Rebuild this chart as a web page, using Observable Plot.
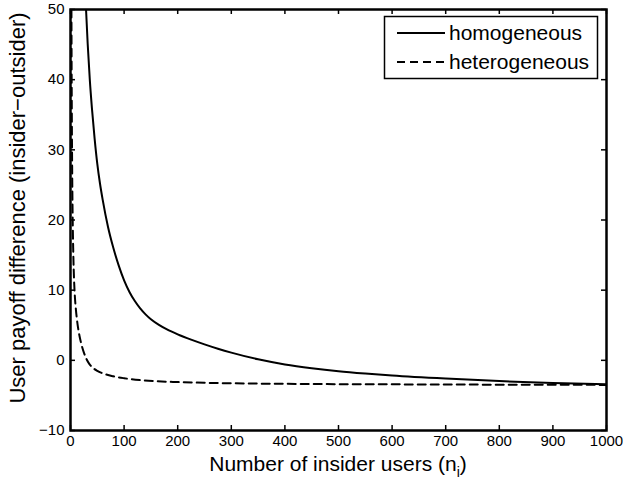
<!DOCTYPE html>
<html>
<head>
<meta charset="utf-8">
<script src="https://cdn.jsdelivr.net/npm/d3@7"></script>
<script src="https://cdn.jsdelivr.net/npm/@observablehq/plot@0.6"></script>
<style>
  html, body { margin: 0; padding: 0; background: #fff; }
  #chart svg { display: block; }
</style>
</head>
<body>
<div id="chart"></div>
<script>
// Insider-count axis and tick values
const xTicks = [0, 100, 200, 300, 400, 500, 600, 700, 800, 900, 1000];
const yTicks = [-10, 0, 10, 20, 30, 40, 50];

// Homogeneous users: payoff difference vs number of insiders
const homN = [29, 32, 36, 40, 45, 50, 55, 60, 70, 80, 90, 100, 110, 120, 130, 140, 150, 165, 180, 200, 225, 250, 275, 300, 350, 400, 450, 500, 550, 600, 700, 800, 900, 1000];
const homY = [50, 45.2, 40, 35.9, 31.6, 28.0, 25.2, 22.9, 19.0, 16.0, 13.5, 11.4, 9.75, 8.45, 7.4, 6.55, 5.85, 5.05, 4.4, 3.7, 2.95, 2.28, 1.66, 1.1, 0.15, -0.58, -1.12, -1.55, -1.88, -2.16, -2.6, -2.96, -3.22, -3.4];

// Heterogeneous users
const hetN = [1.75, 2, 2.5, 3, 3.5, 4, 5, 6, 7, 8, 10, 12, 14, 17, 20, 25, 30, 35, 40, 50, 60, 80, 100, 130, 160, 200, 250, 300, 400, 600, 800, 1000];
const hetY = [50, 43.5, 34.5, 28.2, 23.8, 20.5, 16, 12.9, 10.8, 9.3, 7.3, 5.85, 4.7, 3.4, 2.4, 1.1, 0.15, -0.5, -0.95, -1.5, -1.85, -2.28, -2.55, -2.82, -2.98, -3.1, -3.2, -3.27, -3.35, -3.42, -3.47, -3.5];

const seriesNames = ["homogeneous", "heterogeneous"];

const hom = homN.map((n, i) => ({n, v: homY[i]}));
const het = hetN.map((n, i) => ({n, v: hetY[i]}));

const W = 623, H = 480;
const mL = 70, mR = 17, mT = 9, mB = 50;
const plotW = W - mL - mR, plotH = H - mT - mB;
const tick = 5;
const font = "'Liberation Sans', Arial, Helvetica, sans-serif";

const chart = Plot.plot({
  width: W,
  height: H,
  marginLeft: mL,
  marginRight: mR,
  marginTop: mT,
  marginBottom: mB,
  style: {fontFamily: font, background: "#fff", color: "#000"},
  x: {domain: [0, 1000]},
  y: {domain: [-10, 50]},
  marks: [
    // inward tick marks on all four sides
    Plot.ruleX(xTicks, {x: d => d, insetTop: plotH - tick, stroke: "#000", strokeWidth: 1.5}),
    Plot.ruleX(xTicks, {x: d => d, insetBottom: plotH - tick, stroke: "#000", strokeWidth: 1.5}),
    Plot.ruleY(yTicks, {y: d => d, insetRight: plotW - tick, stroke: "#000", strokeWidth: 1.5}),
    Plot.ruleY(yTicks, {y: d => d, insetLeft: plotW - tick, stroke: "#000", strokeWidth: 1.5}),
    Plot.axisX(xTicks, {tickSize: 0, tickPadding: 5, fontSize: 15, label: null, fill: "#000", tickFormat: d => String(d)}),
    Plot.axisY(yTicks, {tickSize: 0, tickPadding: 6, fontSize: 15, label: null, fill: "#000"}),
    Plot.line(hom, {x: "n", y: "v", stroke: "#000", strokeWidth: 2, curve: "monotone-x", clip: true}),
    Plot.line(het, {x: "n", y: "v", stroke: "#000", strokeWidth: 2, strokeDasharray: "8,5", curve: "monotone-x", clip: true}),
    Plot.frame({stroke: "#000", strokeWidth: 2.5})
  ]
});

const svg = d3.select(chart);

// axis titles
const xt = svg.append("text")
  .attr("x", mL + plotW / 2)
  .attr("y", 471)
  .attr("text-anchor", "middle")
  .attr("font-family", font)
  .attr("font-size", 21)
  .attr("fill", "#000");
xt.append("tspan").text("Number of insider users (n");
xt.append("tspan").attr("font-size", 14).attr("dy", 6).text("i");
xt.append("tspan").attr("dy", -6).text(")");

svg.append("text")
  .attr("transform", "translate(25,208) rotate(-90)")
  .attr("text-anchor", "middle")
  .attr("font-family", font)
  .attr("font-size", 22)
  .attr("fill", "#000")
  .text("User payoff difference (insider\u2212outsider)");

// legend box
const lg = svg.append("g");
lg.append("rect")
  .attr("x", 384.5).attr("y", 16.5)
  .attr("width", 213).attr("height", 62)
  .attr("fill", "#fff").attr("stroke", "#000").attr("stroke-width", 1.5);
const rows = [{y: 33, dash: null}, {y: 62, dash: "8,5"}];
rows.forEach((r, i) => {
  lg.append("line")
    .attr("x1", 397).attr("x2", 445)
    .attr("y1", r.y).attr("y2", r.y)
    .attr("stroke", "#000").attr("stroke-width", 2)
    .attr("stroke-dasharray", r.dash);
  lg.append("text")
    .attr("x", 449).attr("y", r.y)
    .attr("dy", "0.35em")
    .attr("text-anchor", "start")
    .attr("font-family", font)
    .attr("font-size", 21)
    .attr("fill", "#000")
    .text(seriesNames[i]);
});

document.getElementById("chart").appendChild(chart);
</script>
</body>
</html>
